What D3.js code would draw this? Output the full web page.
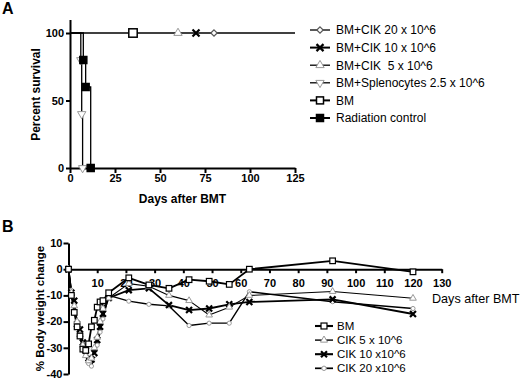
<html>
  <meta charset="utf-8" />
  <script src="https://d3js.org/d3.v7.min.js"></script>
  <style>
    body { margin: 0; background: #fff; }
    text { font-family: "Liberation Sans", Arial, sans-serif; white-space: pre; }
  </style>
  <body>
    <svg width="520" height="379" id="fig"></svg>
    <script>
      // ---- panel A: survival ----
      const spleDays = [0, 6, 6.5, 7];
      const spleSurv = [100, 80, 40, 0];
      const radDays = [0, 7.4, 8.7, 11.5];
      const radSurv = [100, 80, 60, 0];
      const censorDays = [80, 70, 60, 35]; // CIK20, CIK10, CIK5, BM
      const censorShapes = ["diamond", "x", "tri", "square"];
      const legendA = [
        "BM+CIK 20 x 10^6",
        "BM+CIK 10 x 10^6",
        "BM+CIK  5 x 10^6",
        "BM+Splenocytes 2.5 x 10^6",
        "BM",
        "Radiation control"
      ];
      const legendAShapes = ["diamond", "x", "tri", "tridown", "square", "fsquare"];
      const ticksAx = [0, 25, 50, 75, 100, 125];
      const ticksAy = [0, 50, 100];

      // ---- panel B: body weight ----
      const wDays = [0, 1, 2, 3, 4, 5, 6, 7, 8, 9, 10, 11, 12, 14, 21, 28, 35, 42, 49, 56, 63, 92, 120];
      const wBM = [0, -10, -16.5, -22, -25.5, -30.5, -31, -28.5, -22, -19.5, -14.5, -12.5, -12, -9, -3.3, -6, -7.3, -4, -4.6, -5.8, 0, 3.2, -1];
      const wCIK5 = [0, -9, -14, -20, -25, -29, -33, -35, -34, -30, -26, -20, -15, -11, -5.5, -6.5, -10, -12, -17.5, -14.5, -10, -8.5, -11.1];
      const wCIK10 = [0, -9, -12, -21, -23, -28, -31, -34, -34.5, -32, -27, -22, -17, -11, -8, -7.3, -13.7, -15.6, -15, -13.4, -12.5, -11.5, -17.1];
      const wCIK20 = [0, -8, -13, -20, -24, -30, -33, -36, -37, -33, -29, -24, -19, -10, -12.2, -13.4, -14, -21.5, -20.6, -20.6, -8.6, -12.4, -15];
      const legendB = ["BM", "CIK 5 x 10^6", "CIK 10 x10^6", "CIK 20 x10^6"];
      const ticksBx = [10, 20, 30, 40, 50, 60, 70, 80, 90, 100, 110, 120, 130];
      const ticksBy = [10, 0, -10, -20, -30, -40];

      const svg = d3.select("#fig");

      function marker(g, shape, x, y, s) {
        s = s || 1;
        if (shape === "square" || shape === "fsquare") {
          const w = 7 * s;
          g.append("rect").attr("x", x - w / 2).attr("y", y - w / 2)
            .attr("width", w).attr("height", w)
            .attr("fill", shape === "fsquare" ? "#000" : "#fff")
            .attr("stroke", "#000").attr("stroke-width", s < 1 ? 1.2 : 1.5);
        } else if (shape === "tri" || shape === "tridown") {
          const p = d3.symbol().type(d3.symbolTriangle).size(30 * s * s)();
          g.append("path").attr("d", p)
            .attr("transform", `translate(${x},${y})` + (shape === "tridown" ? " rotate(180)" : ""))
            .attr("fill", "#fff").attr("stroke", "#999").attr("stroke-width", 1);
        } else if (shape === "x") {
          const r = 3.5 * s;
          g.append("path")
            .attr("d", `M${x - r},${y - r}L${x + r},${y + r}M${x - r},${y + r}L${x + r},${y - r}`)
            .attr("stroke", "#000").attr("stroke-width", 2.2).attr("fill", "none");
        } else if (shape === "diamond") {
          const r = 3.2 * s;
          g.append("path")
            .attr("d", `M${x},${y - r}L${x + r},${y}L${x},${y + r}L${x - r},${y}Z`)
            .attr("fill", "#fff").attr("stroke", "#555").attr("stroke-width", 1.2);
        } else if (shape === "circle") {
          g.append("circle").attr("cx", x).attr("cy", y).attr("r", 2.6 * s)
            .attr("fill", "#fff").attr("stroke", "#999").attr("stroke-width", 1);
        }
      }

      function styleAxis(g) {
        g.selectAll("path, line").attr("stroke", "#000").attr("stroke-width", 2);
        g.selectAll("text").attr("font-family", "Liberation Sans, Arial, sans-serif")
          .attr("font-size", 11).attr("font-weight", "bold").attr("fill", "#000");
      }

      // ===== Panel A =====
      const xA = d3.scaleLinear().domain([0, 125]).range([70, 295]);
      const yA = d3.scaleLinear().domain([0, 110]).range([168, 19.5]);

      svg.append("text").attr("x", 2).attr("y", 14).attr("font-size", 16)
        .attr("font-weight", "bold").text("A");

      svg.append("g").attr("transform", `translate(0,${yA(0)})`)
        .call(d3.axisBottom(xA).tickValues(ticksAx).tickSize(5).tickSizeOuter(0).tickPadding(1))
        .call(styleAxis);
      svg.append("g").attr("transform", `translate(${xA(0)},0)`)
        .call(d3.axisLeft(yA).tickValues(ticksAy).tickSize(4).tickSizeOuter(0).tickPadding(2))
        .call(styleAxis);

      svg.append("text").attr("x", (xA(0) + xA(125)) / 2).attr("y", 203)
        .attr("text-anchor", "middle").attr("font-size", 12).attr("font-weight", "bold")
        .text("Days after BMT");
      svg.append("text").attr("transform", `translate(40,${(yA(0) + yA(100)) / 2 - 6}) rotate(-90)`)
        .attr("text-anchor", "middle").attr("font-size", 12).attr("font-weight", "bold")
        .text("Percent survival");

      const gA = svg.append("g");
      // flat 100% curves for the surviving groups
      gA.append("line").attr("x1", xA(0)).attr("x2", xA(125))
        .attr("y1", yA(100)).attr("y2", yA(100))
        .attr("stroke", "#000").attr("stroke-width", 1.5);

      const stepA = d3.line().x((d) => xA(d[0])).y((d) => yA(d[1])).curve(d3.curveStepAfter);
      const spleData = spleDays.map((d, i) => [d, spleSurv[i]]);
      const radData = radDays.map((d, i) => [d, radSurv[i]]);
      gA.append("path").attr("d", stepA(spleData)).attr("fill", "none")
        .attr("stroke", "#000").attr("stroke-width", 1.3);
      gA.append("path").attr("d", stepA(radData)).attr("fill", "none")
        .attr("stroke", "#000").attr("stroke-width", 1.3);
      spleData.slice(1).forEach((d) => marker(gA, "tridown", xA(d[0]), yA(d[1])));
      radData.slice(1).forEach((d) => marker(gA, "fsquare", xA(d[0]), yA(d[1])));
      censorDays.forEach((d, i) => marker(gA, censorShapes[i], xA(d), yA(100), censorShapes[i] === "square" ? 1.2 : 1));

      const legA = svg.append("g");
      legendA.forEach((t, i) => {
        const y = 30 + i * 17.6;
        legA.append("line").attr("x1", 310).attr("x2", 330).attr("y1", y).attr("y2", y)
          .attr("stroke", "#000").attr("stroke-width", i === 1 || i >= 4 ? 2 : 1.3);
        marker(legA, legendAShapes[i], 320, y);
        legA.append("text").attr("x", 336).attr("y", y + 4.3).attr("font-size", 12).text(t);
      });

      // ===== Panel B =====
      const xB = d3.scaleLinear().domain([0, 130]).range([68.5, 441.7]);
      const yB = d3.scaleLinear().domain([-40, 10]).range([374, 243]);

      svg.append("text").attr("x", 2).attr("y", 232).attr("font-size", 16)
        .attr("font-weight", "bold").text("B");

      svg.append("g").attr("transform", `translate(0,${yB(0)})`)
        .call(d3.axisBottom(xB).tickValues(ticksBx).tickSize(4).tickSizeOuter(0).tickPadding(6))
        .call(styleAxis);
      svg.append("g").attr("transform", `translate(${xB(0)},0)`)
        .call(d3.axisLeft(yB).tickValues(ticksBy).tickSize(5).tickSizeOuter(0).tickPadding(1))
        .call(styleAxis)
        .call((g) => g.selectAll("text").text((d) => d).attr("dy", "0.3em"));

      svg.append("text").attr("transform", `translate(43.5,${(yB(-40) + yB(10)) / 2}) rotate(-90)`)
        .attr("text-anchor", "middle").attr("font-size", 11.5).attr("font-weight", "bold")
        .text("% Body weight change");
      svg.append("text").attr("x", 432).attr("y", 303).attr("font-size", 12.6)
        .text("Days after BMT");

      const seriesB = [
        { vals: wBM, shape: "square", w: 1.8 },
        { vals: wCIK5, shape: "tri", w: 1.1 },
        { vals: wCIK10, shape: "x", w: 1.8 },
        { vals: wCIK20, shape: "circle", w: 1.4 }
      ];
      const lineB = d3.line().x((d) => xB(d[0])).y((d) => yB(d[1]));
      const gB = svg.append("g");
      seriesB.forEach((s) => {
        const pts = wDays.map((d, i) => [d, s.vals[i]]);
        gB.append("path").attr("d", lineB(pts)).attr("fill", "none")
          .attr("stroke", "#000").attr("stroke-width", s.w).attr("stroke-linejoin", "round");
      });
      seriesB.slice().reverse().forEach((s) => {
        wDays.forEach((d, i) => marker(gB, s.shape, xB(d), yB(s.vals[i]), s.shape === "x" ? 0.85 : 0.8));
      });

      const legB = svg.append("g");
      legendB.forEach((t, i) => {
        const y = 326 + i * 14.1;
        legB.append("line").attr("x1", 315).attr("x2", 333).attr("y1", y).attr("y2", y)
          .attr("stroke", "#000").attr("stroke-width", seriesB[i].w + 0.3);
        marker(legB, seriesB[i].shape, 324, y, 0.85);
        legB.append("text").attr("x", 337).attr("y", y + 4).attr("font-size", 11.5).text(t);
      });
    </script>
  </body>
</html>
